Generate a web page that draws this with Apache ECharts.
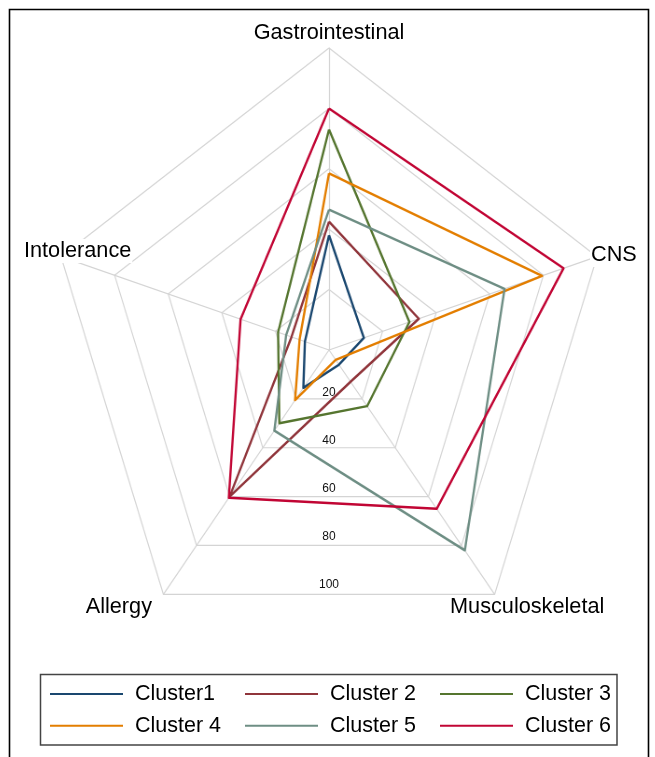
<!DOCTYPE html>
<html><head><meta charset="utf-8">
<script src="https://cdn.jsdelivr.net/npm/echarts@6/dist/echarts.min.js"></script>
<style>
html,body{margin:0;padding:0;background:#fff;}
#wrap{position:relative;width:655px;height:757px;overflow:hidden;background:#fff;}
#radar{position:absolute;left:0;top:0;width:655px;height:757px;transform:scaleX(0.933);transform-origin:329px 0;}
#overlay{position:absolute;left:0;top:0;width:655px;height:757px;}
</style></head><body>
<div id="wrap"><div id="radar"></div><div id="overlay"></div></div>
<script>
// Axes in ECharts order (counter-clockwise from top)
const categories = ['Gastrointestinal', 'Intolerance', 'Allergy', 'Musculoskeletal', 'CNS'];
const tickValues = [20, 40, 60, 80, 100];
const seriesNames = ['Cluster1', 'Cluster 2', 'Cluster 3', 'Cluster 4', 'Cluster 5', 'Cluster 6'];
const cluster1 = [38, 9, 15.5, 6, 13];
const cluster2 = [42.5, 14, 60, 13, 33.5];
const cluster3 = [73, 19, 30, 23, 30];
const cluster4 = [58.5, 11, 20.5, 4, 79.5];
const cluster5 = [46.5, 16, 33, 82, 65.5];
const cluster6 = [80, 33, 60.5, 65, 87.5];

const allValues = [cluster1, cluster2, cluster3, cluster4, cluster5, cluster6];
const colors = ['#1a476f', '#90353b', '#55752f', '#e37e00', '#6e8e84', '#c10534'];
const FONT = '"Liberation Sans", Arial, Helvetica, sans-serif';
const CX = 329, CY = 350, R = 302;

// Radar chart (horizontally compressed like the reference)
const radarChart = echarts.init(document.getElementById('radar'), null, {renderer: 'canvas'});
radarChart.setOption({
  animation: false,
  radar: {
    center: [CX, CY],
    radius: R,
    startAngle: 90,
    shape: 'polygon',
    splitNumber: 5,
    indicator: categories.map(n => ({name: n, min: 0, max: 100})),
    axisName: {show: false},
    axisLabel: {show: false},
    axisTick: {show: false},
    splitArea: {show: false},
    splitLine: {lineStyle: {color: '#d4d4d4', width: 1.2}},
    axisLine: {lineStyle: {color: '#d4d4d4', width: 1.2}}
  },
  series: seriesNames.map((n, i) => ({
    type: 'radar',
    name: n,
    symbol: 'none',
    lineStyle: {color: colors[i], width: 2.4},
    itemStyle: {color: colors[i]},
    data: [{value: allValues[i], name: n}]
  }))
});

// Overlay: frame, axis names, tick labels, legend
const namePos = {
  'Gastrointestinal': [329, 33, 'center'],
  'Intolerance': [23, 251, 'left'],
  'Allergy': [153, 607, 'right'],
  'Musculoskeletal': [449, 607, 'left'],
  'CNS': [590, 255, 'left']
};
const graphics = [
  {type: 'rect', shape: {x: 9.5, y: 9.5, width: 639, height: 820}, style: {fill: 'none', stroke: '#000', lineWidth: 1.6}},
  {type: 'rect', shape: {x: 40.5, y: 674.5, width: 576.5, height: 70.5}, style: {fill: 'none', stroke: '#444', lineWidth: 1.5}}
];
categories.forEach(n => {
  const p = namePos[n];
  graphics.push({type: 'text', x: p[0], y: p[1], z: 10, style: {
    text: n, font: '21.7px ' + FONT, fill: '#000', align: p[2], verticalAlign: 'middle',
    backgroundColor: '#fff', padding: [1, 1]
  }});
});
tickValues.forEach(v => {
  graphics.push({type: 'text', x: CX, y: CY + 0.795 * R * v / 100 - 5, style: {
    text: String(v), font: '12px ' + FONT, fill: '#111', align: 'center', verticalAlign: 'middle'
  }});
});

const columns = [[0, 3], [1, 4], [2, 5]];
const colLeft = [50, 245, 440];
const overlay = echarts.init(document.getElementById('overlay'), null, {renderer: 'canvas'});
overlay.setOption({
  animation: false,
  grid: {left: 0, top: 0, width: 10, height: 10, show: false},
  xAxis: {type: 'value', show: false},
  yAxis: {type: 'value', show: false},
  legend: columns.map((c, k) => ({
    orient: 'vertical',
    left: colLeft[k],
    top: 683,
    padding: 0,
    itemGap: 9.7,
    itemWidth: 73,
    itemHeight: 2,
    icon: 'rect',
    selectedMode: false,
    data: c.map(i => seriesNames[i]),
    textStyle: {fontSize: 21.5, fontFamily: FONT, color: '#000', lineHeight: 22, padding: [0, 0, 0, 7]}
  })),
  series: seriesNames.map((n, i) => ({
    type: 'line', name: n, data: [], symbol: 'none',
    lineStyle: {color: colors[i]}, itemStyle: {color: colors[i]}
  })),
  graphic: graphics
});
</script>
</body></html>
